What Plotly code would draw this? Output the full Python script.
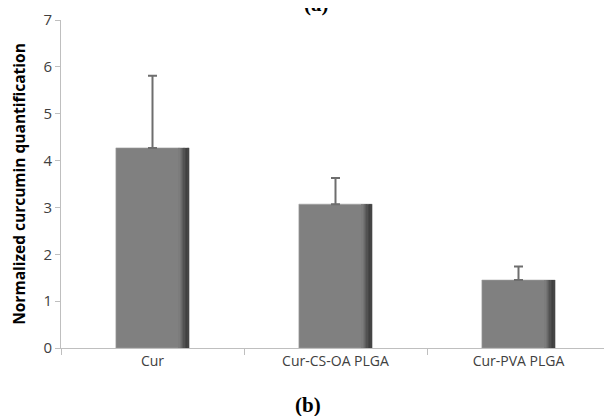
import plotly.graph_objects as go

categories = ["Cur", "Cur-CS-OA PLGA", "Cur-PVA PLGA"]
values = [4.27, 3.07, 1.45]
errors = [1.54, 0.56, 0.29]
y_ticks = [0, 1, 2, 3, 4, 5, 6, 7]

BAR_W = 0.4
fig = go.Figure()

# main bars
fig.add_trace(go.Bar(
    x=categories, y=values, width=BAR_W,
    marker=dict(color="#808080", line=dict(color="#a0a0a0", width=0.6)),
    error_y=dict(type="data", array=errors, arrayminus=[0]*len(errors), symmetric=False,
                 color="#6e6e6e", thickness=2, width=4.5),
    showlegend=False, hoverinfo="skip",
))

# darker shading strips at right edge of each bar (gradient imitation)
shades = ["#7c7c7c", "#747474", "#6a6a6a", "#5e5e5e", "#525252", "#474747", "#404040", "#454545"]
strip_w = 0.007
start = BAR_W / 2 - strip_w * len(shades)
for i, c in enumerate(shades):
    fig.add_trace(go.Bar(
        x=categories, y=values, width=strip_w, offset=start + i * strip_w,
        marker=dict(color=c, line=dict(width=0)),
        showlegend=False, hoverinfo="skip",
    ))

# page body has an 8px margin, so the figure is sized/offset to compensate
fig.update_layout(
    width=604, height=408,
    margin=dict(l=53, r=2, t=12, b=68),
    plot_bgcolor="white", paper_bgcolor="white",
    barmode="overlay", bargap=0.6,
    font=dict(family="Open Sans, Liberation Sans, sans-serif", color="#404040"),
    xaxis=dict(
        automargin=False,
        showline=True, linecolor="#bfbfbf", linewidth=1,
        ticks="outside", tickson="boundaries", ticklen=6, tickcolor="#bfbfbf",
        tickfont=dict(size=14, color="#404040"),
        showgrid=False, zeroline=False,
    ),
    yaxis=dict(
        automargin=False,
        range=[0, 7], tickvals=y_ticks,
        showline=True, linecolor="#bfbfbf", linewidth=1,
        ticks="outside", ticklen=5, tickcolor="#bfbfbf",
        tickfont=dict(size=15, color="#404040"),
        showgrid=False, zeroline=False,
        title=dict(text="<b>Normalized curcumin quantification</b>",
                   font=dict(size=15.5, color="#000000"), standoff=13),
    ),
    annotations=[
        dict(text="<b>(b)</b>", xref="paper", yref="paper", x=0.45, y=-0.174,
             showarrow=False, xanchor="center", yanchor="middle",
             font=dict(family="Liberation Serif, DejaVu Serif, serif", size=21, color="#000000")),
        dict(text="<b>(a)</b>", xref="paper", yref="paper", x=0.465, y=1.05,
             showarrow=False, xanchor="center", yanchor="middle",
             font=dict(family="Liberation Serif, DejaVu Serif, serif", size=21, color="#000000")),
    ],
)

fig.write_html("out.html")
